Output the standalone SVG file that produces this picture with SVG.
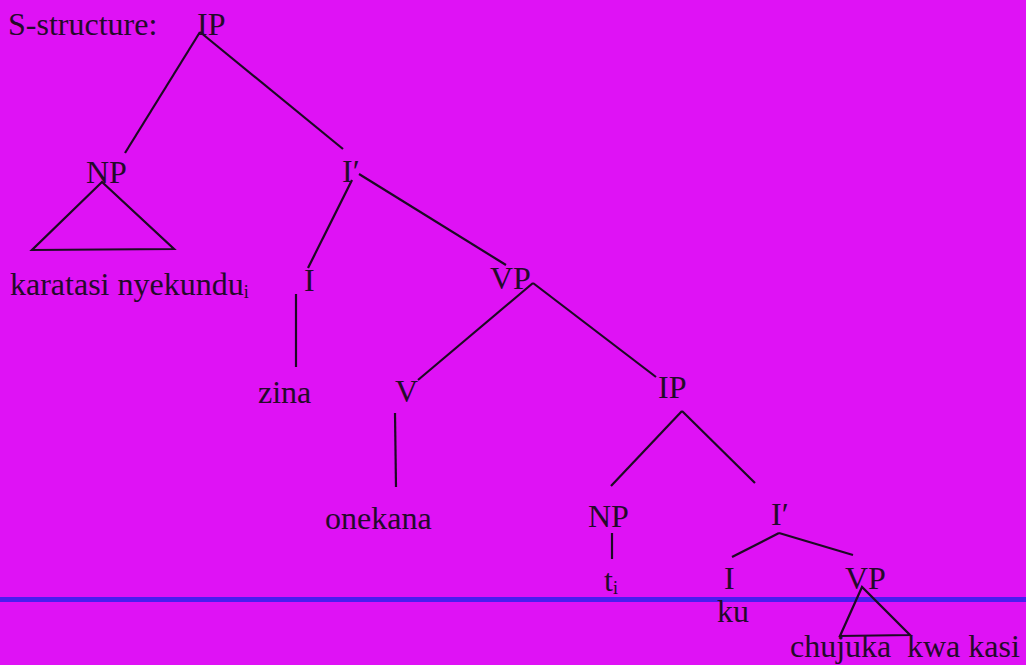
<svg xmlns="http://www.w3.org/2000/svg" width="1026" height="665" viewBox="0 0 1026 665">
<style>
text{font-family:"Liberation Serif","Times New Roman",serif;font-size:32px;fill:#240a2a}
.sub{font-size:18px}
line,polygon{stroke:#1c0a22;stroke-width:2.2;fill:none}
</style>
<rect width="1026" height="665" fill="#df12f5"/>
<rect x="0" y="597" width="1026" height="5" fill="#4b1cf0"/>
<g id="connectors">
<line x1="200" y1="32" x2="125" y2="153"/>
<line x1="200" y1="32" x2="343" y2="149"/>
<line x1="352" y1="180" x2="308" y2="268"/>
<line x1="359" y1="174" x2="506" y2="265"/>
<line x1="296" y1="294" x2="296" y2="367"/>
<line x1="533" y1="283" x2="418" y2="380"/>
<line x1="533" y1="283" x2="656" y2="377"/>
<line x1="395" y1="413" x2="396" y2="487"/>
<line x1="682" y1="411" x2="611" y2="486"/>
<line x1="682" y1="411" x2="755" y2="483"/>
<line x1="612" y1="533" x2="612" y2="559"/>
<line x1="779" y1="533" x2="732" y2="557"/>
<line x1="779" y1="533" x2="853" y2="555"/>
</g>
<g id="title"><text x="8" y="35">S-structure:</text></g>
<g id="ip-top"><text x="197" y="35">IP</text></g>
<g id="np-subject">
<text x="86" y="183">NP</text>
<polygon points="102,182 32,250 174,249"/>
<text x="10" y="295">karatasi nyekundu<tspan class="sub" dy="3">i</tspan></text>
</g>
<g id="ibar-top"><text x="342" y="182">I′</text></g>
<g id="i-top"><text x="304" y="291">I</text></g>
<g id="zina"><text x="258" y="403">zina</text></g>
<g id="vp-top"><text x="490" y="289">VP</text></g>
<g id="v"><text x="395" y="402">V</text></g>
<g id="onekana"><text x="325" y="529">onekana</text></g>
<g id="ip-lower"><text x="658" y="398">IP</text></g>
<g id="np-lower"><text x="588" y="527">NP</text></g>
<g id="trace"><text x="604" y="591">t<tspan class="sub" dy="3">i</tspan></text></g>
<g id="ibar-lower"><text x="771" y="525">I′</text></g>
<g id="i-lower"><text x="724" y="589">I</text></g>
<g id="ku"><text x="717" y="622">ku</text></g>
<g id="vp-lower">
<text x="845" y="589">VP</text>
<polygon points="862,587 840,636 910,635"/>
</g>
<g id="chujuka"><text x="790" y="657">chujuka</text></g>
<g id="kwakasi"><text x="907" y="657">kwa kasi</text></g>
</svg>
